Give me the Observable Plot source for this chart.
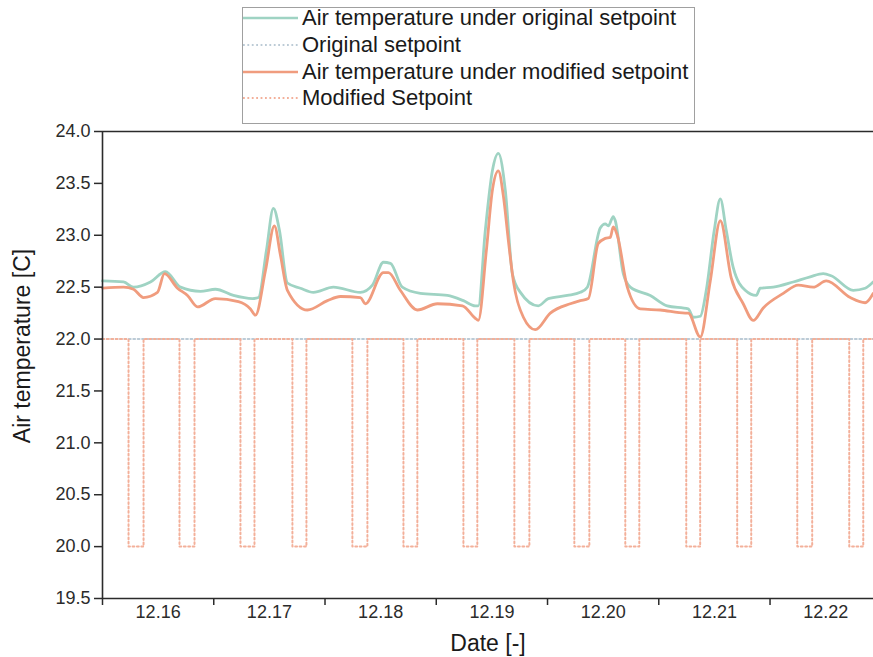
<!DOCTYPE html>
<html>
<head>
<meta charset="utf-8">
<script src="https://cdn.jsdelivr.net/npm/d3@7"></script>
<script src="https://cdn.jsdelivr.net/npm/@observablehq/plot@0.6"></script>
<style>
  html, body { margin: 0; padding: 0; background: #fff; }
  body { width: 873px; height: 657px; overflow: hidden; position: relative; font-family: "Liberation Sans", Arial, sans-serif; }
  #legend { position: absolute; left: 0; top: 0; width: 873px; height: 125px; z-index: 2; pointer-events: none; }
  #legend .box { position: absolute; left: 242px; top: 7px; width: 453px; height: 117px; border: 1px solid #a0a0a0; box-sizing: border-box; background: #fff; }
  #legend .row { position: absolute; left: 243px; height: 26px; display: flex; align-items: center; }
  #legend .row span { font-size: 22px; color: #1a1a1a; margin-left: 4px; white-space: nowrap; }
  #chart { position: absolute; left: 0; top: 0; }
  #chart svg { display: block; }
</style>
</head>
<body>
<div id="chart"></div>
<div id="legend"></div>
<script>
// ---- data (days since start of 12.16, temperature in C) ----
const dayLabels = ["12.16", "12.17", "12.18", "12.19", "12.20", "12.21", "12.22"];
const yTicks = [19.5, 20.0, 20.5, 21.0, 21.5, 22.0, 22.5, 23.0, 23.5, 24.0];

const origDay = [0, 0.189, 0.279, 0.431, 0.566, 0.701, 0.880, 1.015, 1.177, 1.348, 1.402, 1.473, 1.536, 1.590, 1.662, 1.779, 1.896, 2.075, 2.318, 2.426, 2.525, 2.588, 2.695, 2.857, 3.100, 3.244, 3.351, 3.378, 3.441, 3.504, 3.558, 3.621, 3.684, 3.756, 3.917, 4.007, 4.178, 4.295, 4.358, 4.474, 4.519, 4.546, 4.591, 4.609, 4.681, 4.744, 4.924, 5.076, 5.265, 5.310, 5.373, 5.427, 5.499, 5.553, 5.606, 5.669, 5.777, 5.876, 5.912, 6.029, 6.208, 6.361, 6.478, 6.550, 6.748, 6.855, 6.927];
const origTemp = [22.56, 22.55, 22.50, 22.55, 22.65, 22.50, 22.46, 22.48, 22.42, 22.39, 22.40, 22.85, 23.26, 23.05, 22.54, 22.49, 22.45, 22.50, 22.45, 22.52, 22.74, 22.73, 22.50, 22.44, 22.42, 22.37, 22.32, 22.32, 23.05, 23.62, 23.79, 23.43, 22.63, 22.45, 22.32, 22.39, 22.42, 22.45, 22.50, 23.07, 23.11, 23.09, 23.18, 23.14, 22.63, 22.50, 22.42, 22.32, 22.29, 22.21, 22.22, 22.47, 23.05, 23.35, 23.05, 22.69, 22.47, 22.42, 22.49, 22.50, 22.55, 22.60, 22.63, 22.61, 22.47, 22.49, 22.55];

const modDay = [0, 0.189, 0.279, 0.368, 0.494, 0.557, 0.674, 0.764, 0.854, 1.015, 1.222, 1.330, 1.375, 1.465, 1.545, 1.599, 1.662, 1.842, 2.022, 2.138, 2.318, 2.363, 2.525, 2.570, 2.677, 2.830, 3.010, 3.235, 3.351, 3.378, 3.450, 3.504, 3.558, 3.603, 3.648, 3.693, 3.783, 3.890, 4.025, 4.205, 4.295, 4.367, 4.456, 4.519, 4.564, 4.591, 4.627, 4.717, 4.834, 5.013, 5.238, 5.265, 5.373, 5.463, 5.553, 5.651, 5.759, 5.849, 5.939, 6.119, 6.253, 6.388, 6.505, 6.721, 6.855, 6.927];
const modTemp = [22.49, 22.50, 22.48, 22.40, 22.45, 22.63, 22.49, 22.42, 22.31, 22.39, 22.36, 22.29, 22.23, 22.66, 23.09, 22.81, 22.47, 22.28, 22.37, 22.41, 22.40, 22.34, 22.64, 22.64, 22.47, 22.28, 22.34, 22.32, 22.20, 22.18, 22.85, 23.43, 23.62, 23.38, 22.95, 22.56, 22.21, 22.09, 22.25, 22.34, 22.37, 22.39, 22.92, 22.97, 22.98, 23.08, 23.00, 22.50, 22.29, 22.28, 22.25, 22.25, 22.02, 22.56, 23.14, 22.59, 22.34, 22.18, 22.30, 22.44, 22.52, 22.50, 22.56, 22.40, 22.35, 22.44];

const setbackStart = [0.234, 0.692, 1.240, 1.707, 2.246, 2.705, 3.244, 3.702, 4.241, 4.699, 5.247, 5.705, 6.245, 6.712];
const setbackEnd   = [0.369, 0.827, 1.366, 1.833, 2.381, 2.830, 3.369, 3.837, 4.376, 4.825, 5.372, 5.831, 6.379, 6.838];
const originalSetpoint = 22.0;
const setbackSetpoint = 20.0;
const xEnd = 6.93;

// ---- build tables ----
const orig = origDay.map((d, i) => ({day: d, temp: origTemp[i]}));
const mod = modDay.map((d, i) => ({day: d, temp: modTemp[i]}));
const origSP = [{day: 0, temp: originalSetpoint}, {day: xEnd, temp: originalSetpoint}];
const modSP = [{day: 0, temp: originalSetpoint}];
setbackStart.forEach((s, i) => {
  modSP.push({day: s, temp: originalSetpoint}, {day: s, temp: setbackSetpoint},
             {day: setbackEnd[i], temp: setbackSetpoint}, {day: setbackEnd[i], temp: originalSetpoint});
});
modSP.push({day: xEnd, temp: originalSetpoint});

const tealColor = "#9fd3c3";
const salmonColor = "#f09c7e";
const modSPColor = "#f3b09a";
const origSPColor = "#bccbd6";
const axisColor = "#2b2b2b";

// ---- legend ----
const legendItems = [
  {label: "Air temperature under original setpoint", color: tealColor, dash: null, y: 5},
  {label: "Original setpoint", color: origSPColor, dash: "1.8 2.6", y: 32},
  {label: "Air temperature under modified setpoint", color: salmonColor, dash: null, y: 59},
  {label: "Modified Setpoint", color: modSPColor, dash: "1.8 2.6", y: 85}
];
const leg = document.getElementById("legend");
const box = document.createElement("div");
box.className = "box";
leg.appendChild(box);
legendItems.forEach(it => {
  const row = document.createElement("div");
  row.className = "row";
  row.style.top = it.y + "px";
  row.innerHTML = `<svg width="55" height="26"><line x1="0" x2="55" y1="13" y2="13" stroke="${it.color}" stroke-width="${it.dash ? 2 : 2.5}" ${it.dash ? `stroke-dasharray="${it.dash}"` : ""}/></svg><span>${it.label}</span>`;
  leg.appendChild(row);
});

// ---- chart ----
const xTickPos = d3.range(0, 7);
const xLabelPos = dayLabels.map((_, i) => i + 0.5);

const chart = Plot.plot({
  width: 873,
  height: 657,
  marginLeft: 102,
  marginRight: 0,
  marginTop: 131,
  marginBottom: 59,
  style: {fontFamily: "Liberation Sans, Arial, sans-serif", color: axisColor, background: "white"},
  x: {domain: [0, xEnd]},
  y: {domain: [19.5, 24.0]},
  marks: [
    Plot.line(origSP, {x: "day", y: "temp", stroke: origSPColor, strokeWidth: 2, strokeDasharray: "1.8 2.6"}),
    Plot.line(modSP, {x: "day", y: "temp", stroke: modSPColor, strokeWidth: 2, strokeDasharray: "1.8 2.6", strokeLinejoin: "round"}),
    Plot.line(orig, {x: "day", y: "temp", stroke: tealColor, strokeWidth: 2.8, curve: "monotone-x"}),
    Plot.line(mod, {x: "day", y: "temp", stroke: salmonColor, strokeWidth: 2.8, curve: "monotone-x"}),
    Plot.ruleY([24.0], {stroke: axisColor, strokeWidth: 1.6}),
    Plot.ruleY([19.5], {stroke: axisColor, strokeWidth: 1.6}),
    Plot.ruleX([0], {stroke: axisColor, strokeWidth: 1.6}),
    Plot.axisY({ticks: yTicks, tickFormat: d3.format(".1f"), tickSize: 8, tickPadding: 4, fontSize: 18, label: null, strokeWidth: 1.5}),
    Plot.axisX({ticks: xTickPos, tickFormat: () => "", tickSize: 7, label: null, strokeWidth: 1.5}),
    Plot.axisX({ticks: xLabelPos, tickFormat: d => dayLabels[Math.floor(d)], tickSize: 0, tickPadding: 7, fontSize: 18, label: null}),
    Plot.text(["Date [-]"], {frameAnchor: "bottom", lineAnchor: "middle", textAnchor: "middle", dy: 45, fontSize: 23, fill: "#1a1a1a"}),
    Plot.text(["Air temperature [C]"], {frameAnchor: "left", textAnchor: "middle", lineAnchor: "middle", dx: -80, dy: -19, rotate: -90, fontSize: 23, fill: "#1a1a1a"})
  ]
});
document.getElementById("chart").appendChild(chart);
</script>
</body>
</html>
